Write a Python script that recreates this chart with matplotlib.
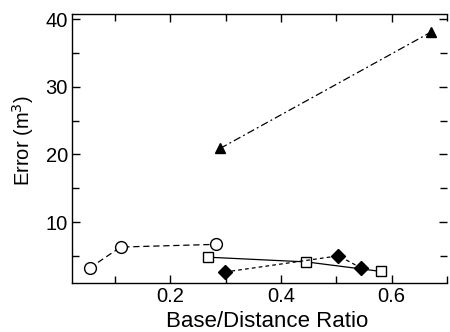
import matplotlib
matplotlib.use('Agg')
import matplotlib.pyplot as plt
from matplotlib.ticker import MultipleLocator

plt.rcParams['font.family'] = ['Liberation Sans', 'DejaVu Sans']

# data
circ_x = [0.054, 0.11, 0.283]
circ_y = [3.2, 6.3, 6.7]
sq_x = [0.268, 0.446, 0.58]
sq_y = [4.8, 4.1, 2.7]
dia_x = [0.298, 0.504, 0.545]
dia_y = [2.6, 5.0, 3.2]
tri_x = [0.290, 0.671]
tri_y = [20.9, 38.1]

fig = plt.figure(figsize=(4.5, 3.32), dpi=100)
ax = fig.add_axes([0.16, 0.148, 0.833, 0.81])

ax.plot(circ_x, circ_y, color='k', ls=(0, (5, 3)), lw=0.9, marker='o',
        ms=8.5, mfc='white', mec='k', mew=1.0)
ax.plot(sq_x, sq_y, color='k', ls='-', lw=0.9, marker='s',
        ms=7.5, mfc='white', mec='k', mew=1.0)
ax.plot(dia_x, dia_y, color='k', ls=(0, (3, 2.5)), lw=0.9, marker='D',
        ms=7, mfc='k', mec='k')
ax.plot(tri_x, tri_y, color='k', ls=(0, (6, 2.5, 1.5, 2.5)), lw=0.9, marker='^',
        ms=7, mfc='k', mec='k')

ax.set_xlim(0.022, 0.70)
ax.set_ylim(1.0, 40.8)
ax.xaxis.set_major_locator(MultipleLocator(0.2))
ax.xaxis.set_minor_locator(MultipleLocator(0.1))
ax.yaxis.set_major_locator(MultipleLocator(10))
ax.yaxis.set_minor_locator(MultipleLocator(5))
ax.tick_params(which='both', direction='in', top=True, right=True,
               labelsize=14.5, width=1.0)
ax.tick_params(which='major', length=6, pad=3)
ax.tick_params(which='minor', length=5)
ax.spines['right'].set_visible(False)
for s in ['left', 'bottom', 'top']:
    ax.spines[s].set_linewidth(1.0)

ax.set_xlabel('Base/Distance Ratio', fontsize=16, labelpad=3)
ax.xaxis.set_label_coords(0.52, -0.105)
ax.set_ylabel('Error (m$^3$)', fontsize=14.5)
ax.yaxis.set_label_coords(-0.097, 0.53)

fig.savefig('out.png', dpi=100)
